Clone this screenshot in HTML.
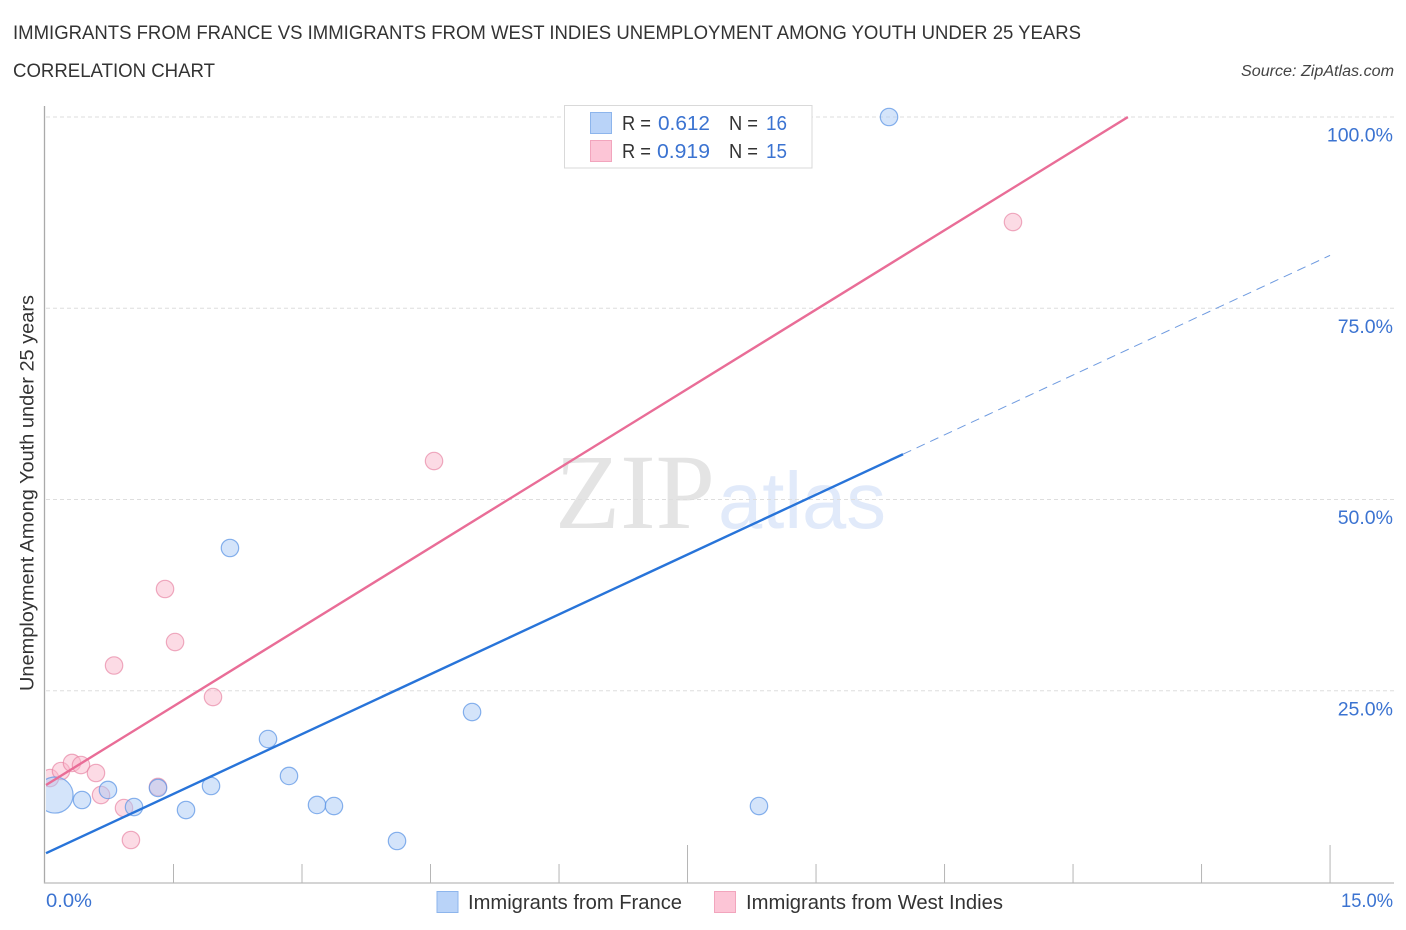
<!DOCTYPE html>
<html lang="en">
<head>
<meta charset="utf-8">
<title>Immigrants from France vs Immigrants from West Indies Unemployment Among Youth Under 25 Years</title>
<style>
html,body{margin:0;padding:0;background:#fff;width:1406px;height:930px;overflow:hidden}
svg{display:block;font-family:"Liberation Sans",sans-serif}
</style>
</head>
<body>
<svg id="chart" width="1406" height="930" viewBox="0 0 1406 930" xmlns="http://www.w3.org/2000/svg">
  <defs><clipPath id="plot-clip"><rect x="46" y="100" width="1350" height="783"/></clipPath></defs>
  <text x="13" y="39" font-size="19" fill="#333" textLength="1068" lengthAdjust="spacingAndGlyphs">IMMIGRANTS FROM FRANCE VS IMMIGRANTS FROM WEST INDIES UNEMPLOYMENT AMONG YOUTH UNDER 25 YEARS</text>
  <text x="13" y="77" font-size="19" fill="#333" textLength="202" lengthAdjust="spacingAndGlyphs">CORRELATION CHART</text>
  <text x="1241" y="76" font-size="15.5" font-style="italic" fill="#444" textLength="153" lengthAdjust="spacingAndGlyphs">Source: ZipAtlas.com</text>

  <g id="watermark">
    <text x="555" y="528" style="font-family:'Liberation Serif',serif" font-size="107" fill="#e4e4e4" textLength="160" lengthAdjust="spacingAndGlyphs">ZIP</text>
    <text x="718" y="528" style="font-family:'Liberation Sans',sans-serif" font-size="80" fill="#e1eafa" textLength="168" lengthAdjust="spacingAndGlyphs">atlas</text>
  </g>

  <g id="grid"></g>
  <g id="axes"></g>
  <g id="points" clip-path="url(#plot-clip)"></g>
  <g id="trends"></g>

  <text transform="translate(33.5 691) rotate(-90)" font-size="19.5" fill="#333" textLength="396" lengthAdjust="spacingAndGlyphs">Unemployment Among Youth under 25 years</text>

  <g>
    <rect x="564.5" y="105.5" width="247.5" height="62.5" fill="#fff" stroke="#d9d9d9"/>
    <rect x="590.5" y="112.5" width="21" height="21" fill="#b9d3f8" stroke="#8db5ec"/>
    <rect x="590.5" y="140.5" width="21" height="21" fill="#fcc5d6" stroke="#f2a5bd"/>
    <g font-size="20" fill="#333">
      <text x="622" y="130" textLength="29" lengthAdjust="spacingAndGlyphs">R =</text>
      <text x="658" y="130" fill="#3b73d1" textLength="52" lengthAdjust="spacingAndGlyphs">0.612</text>
      <text x="729" y="130" textLength="29" lengthAdjust="spacingAndGlyphs">N =</text>
      <text x="766" y="130" fill="#3b73d1" textLength="21" lengthAdjust="spacingAndGlyphs">16</text>
      <text x="622" y="158" textLength="29" lengthAdjust="spacingAndGlyphs">R =</text>
      <text x="657" y="158" fill="#3b73d1" textLength="53" lengthAdjust="spacingAndGlyphs">0.919</text>
      <text x="729" y="158" textLength="29" lengthAdjust="spacingAndGlyphs">N =</text>
      <text x="766" y="158" fill="#3b73d1" textLength="21" lengthAdjust="spacingAndGlyphs">15</text>
    </g>
  </g>

  <g>
    <rect x="437" y="891.5" width="21" height="21" fill="#b9d3f8" stroke="#8db5ec"/>
    <text x="468" y="909" font-size="20" fill="#333" textLength="214" lengthAdjust="spacingAndGlyphs">Immigrants from France</text>
    <rect x="714.5" y="891.5" width="21" height="21" fill="#fcc5d6" stroke="#f2a5bd"/>
    <text x="746" y="909" font-size="20" fill="#333" textLength="257" lengthAdjust="spacingAndGlyphs">Immigrants from West Indies</text>
  </g>
</svg>
<script>
const yTickValues = [25, 50, 75, 100];
const yTickLabels = ["25.0%", "50.0%", "75.0%", "100.0%"];
const xTickValues = [1.5, 3, 4.5, 6, 7.5, 9, 10.5, 12, 13.5, 15];
const xMajorTicks = [7.5, 15];
const xEndLabels = ["0.0%", "15.0%"];

const franceX = [0.117, 0.432, 0.735, 1.039, 1.319, 1.646, 1.938, 2.159, 2.603, 2.848, 3.175, 3.373, 4.109, 4.985, 8.334, 9.852];
const franceY = [11.37, 10.72, 12.03, 9.80, 12.29, 9.41, 12.55, 43.66, 18.69, 13.86, 10.07, 9.93, 5.36, 22.22, 9.93, 100];
const franceWeight = [4.3, 1, 1, 1, 1, 1, 1, 1, 1, 1, 1, 1, 1, 1, 1, 1];

const westIndiesX = [0.058, 0.187, 0.315, 0.420, 0.595, 0.654, 0.922, 1.003, 1.319, 0.806, 1.401, 1.518, 1.961, 4.541, 11.299];
const westIndiesY = [13.59, 14.51, 15.56, 15.29, 14.25, 11.37, 9.67, 5.49, 12.42, 28.30, 38.30, 31.37, 24.18, 55.03, 86.27];
const westIndiesWeight = [1, 1, 1, 1, 1, 1, 1, 1, 1, 1, 1, 1, 1, 1, 1];

const franceTrend = { intercept: 3.7, slope: 5.214, solidEnd: 10.015, dashedEnd: 15 };
const westIndiesTrend = { intercept: 12.6, slope: 6.914, solidEnd: 12.64 };

const NS = "http://www.w3.org/2000/svg";
const xScale = v => 45 + v * 85.67;
const yScale = v => 882 - v * 7.65;
function make(tag, attrs, parent) {
  const el = document.createElementNS(NS, tag);
  for (const k in attrs) el.setAttribute(k, attrs[k]);
  parent.appendChild(el);
  return el;
}
const grid = document.getElementById("grid");
const axes = document.getElementById("axes");
const points = document.getElementById("points");
const trends = document.getElementById("trends");

yTickValues.forEach((v, i) => {
  const line = make("line", { x1: 46, x2: 1395, y1: yScale(v), y2: yScale(v), stroke: "#dedede", "stroke-dasharray": "4 3" }, grid);
  
  
  const label = make("text", { x: 1393, y: yScale(v) + 24.5, "text-anchor": "end", "font-size": 19.5, fill: "#3b73d1" }, axes);
  
  
  label.textContent = yTickLabels[i];
});

const yAxis = make("line", { x1: 44.5, x2: 44.5, y1: 106, y2: 883.5, stroke: "#aaa", "stroke-width": 1.3 }, axes);


const xAxis = make("line", { x1: 44, x2: 1394, y1: 883, y2: 883, stroke: "#bbb", "stroke-width": 1.3 }, axes);



xTickValues.forEach(v => {
  const top = xMajorTicks.includes(v) ? 845 : 864;
  const tick = make("line", { x1: xScale(v), x2: xScale(v), y1: top, y2: 883, stroke: "#b5b5b5", "stroke-width": 1 }, axes);
  
  
});

const xLabelLeft = make("text", { x: 46, y: 907, "font-size": 19.5, fill: "#3b73d1", textLength: 46, lengthAdjust: "spacingAndGlyphs" }, axes);


xLabelLeft.textContent = xEndLabels[0];
const xLabelRight = make("text", { x: 1341, y: 907, "font-size": 19.5, fill: "#3b73d1", textLength: 52, lengthAdjust: "spacingAndGlyphs" }, axes);


xLabelRight.textContent = xEndLabels[1];

westIndiesX.forEach((v, i) => {
  const c = make("circle", { cx: xScale(v), cy: yScale(westIndiesY[i]), r: 8.7 * Math.sqrt(westIndiesWeight[i]), fill: "#f9b8cc", "fill-opacity": 0.5, stroke: "#e77f9f", "stroke-opacity": 0.65, "stroke-width": 1.2 }, points);
  
  
});
franceX.forEach((v, i) => {
  const c = make("circle", { cx: xScale(v), cy: yScale(franceY[i]), r: 8.7 * Math.sqrt(franceWeight[i]), fill: "#a9c9f5", "fill-opacity": 0.5, stroke: "#5f97e6", "stroke-opacity": 0.75, "stroke-width": 1.2 }, points);
  
  
});

const trendValue = (t, x) => t.intercept + t.slope * x;
const startX = 0.012;
const fDash = make("line", { x1: xScale(franceTrend.solidEnd), y1: yScale(trendValue(franceTrend, franceTrend.solidEnd)), x2: xScale(franceTrend.dashedEnd), y2: yScale(trendValue(franceTrend, franceTrend.dashedEnd)), stroke: "#6f9be0", "stroke-width": 1, "stroke-dasharray": "9 6" }, trends);


const fSolid = make("line", { x1: xScale(startX), y1: yScale(trendValue(franceTrend, startX)), x2: xScale(franceTrend.solidEnd), y2: yScale(trendValue(franceTrend, franceTrend.solidEnd)), stroke: "#2874d9", "stroke-width": 2.4 }, trends);


const wSolid = make("line", { x1: xScale(startX), y1: yScale(trendValue(westIndiesTrend, startX)), x2: xScale(westIndiesTrend.solidEnd), y2: yScale(trendValue(westIndiesTrend, westIndiesTrend.solidEnd)), stroke: "#e96d97", "stroke-width": 2.4 }, trends);


</script>
</body>
</html>
